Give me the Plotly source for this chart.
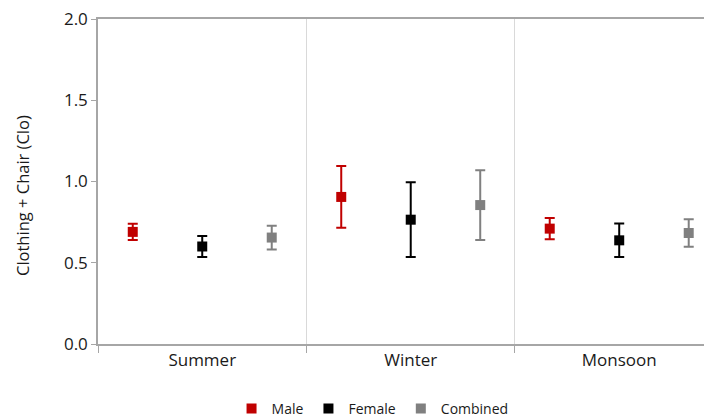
import plotly.graph_objects as go

categories = ["Summer", "Winter", "Monsoon"]
series_names = ["Male", "Female", "Combined"]
male_mean = [0.69, 0.905, 0.71]
male_err = [0.05, 0.19, 0.065]
female_mean = [0.60, 0.765, 0.638]
female_err = [0.065, 0.23, 0.103]
combined_mean = [0.655, 0.855, 0.683]
combined_err = [0.073, 0.215, 0.085]
y_title = "Clothing + Chair (Clo)"
colors = ["#C00000", "#000000", "#808080"]
offsets = [-1/3, 0, 1/3]

means = [male_mean, female_mean, combined_mean]
errs = [male_err, female_err, combined_err]

fig = go.Figure()
for name, m, e, c, off in zip(series_names, means, errs, colors, offsets):
    fig.add_trace(go.Scatter(
        x=[i + off for i in range(len(categories))],
        y=m,
        mode="markers",
        name=name,
        marker=dict(symbol="square", size=10, color=c),
        error_y=dict(type="data", array=e, visible=True, color=c, thickness=2, width=5),
    ))

font = "Open Sans, DejaVu Sans, sans-serif"
top, bottom = 11, 336
fig.update_layout(
    width=712, height=419,
    margin=dict(l=90, r=8, t=top, b=419 - bottom),
    plot_bgcolor="white", paper_bgcolor="white",
    font=dict(family=font, color="#1a1a1a", size=16),
    showlegend=True,
    legend=dict(orientation="h", xref="container", x=0.512, xanchor="center",
                yref="container", y=0.043, yanchor="middle",
                font=dict(size=14), itemwidth=30, tracegroupgap=0),
    xaxis=dict(
        range=[-0.5, 2.445], automargin=False,
        tickmode="array", tickvals=[0, 1, 2], ticktext=categories,
        ticks="", showgrid=False, zeroline=False,
        showline=True, linecolor="#a6a6a6", linewidth=1.5, mirror=True,
        tickfont=dict(size=17),
        minor=dict(tick0=0.5, dtick=1, ticks="outside", ticklen=7, tickcolor="#a6a6a6",
                   showgrid=True, gridcolor="#d9d9d9", gridwidth=1),
    ),
    yaxis=dict(
        range=[0, 2.0], automargin=False, tickvals=[0, 0.5, 1.0, 1.5, 2.0],
        ticktext=["0.0", "0.5", "1.0", "1.5", "2.0"],
        ticks="outside", ticklen=5, tickcolor="#a6a6a6",
        showgrid=False, zeroline=False,
        showline=True, linecolor="#a6a6a6", linewidth=1.5,
        tickfont=dict(size=17), ticklabeloverflow="allow",
    ),
    annotations=[dict(
        text=y_title, textangle=-90, showarrow=False,
        xref="paper", yref="paper", x=(14 - 90) / 614, y=(bottom - 188) / (bottom - top),
        xanchor="center", yanchor="middle", font=dict(size=16.5),
    )],
)

fig.write_html("out.html")
